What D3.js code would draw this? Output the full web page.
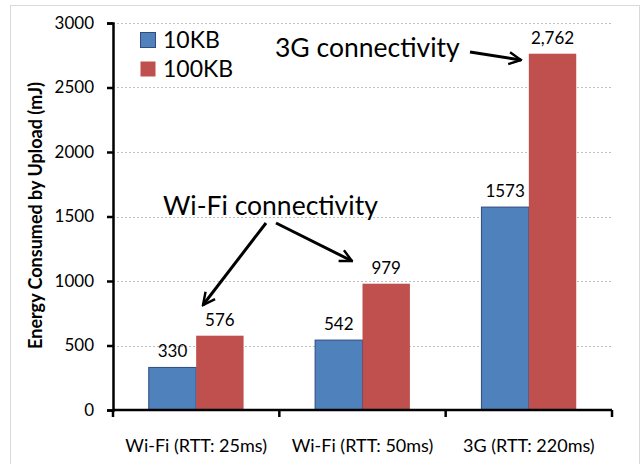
<!DOCTYPE html>
<html><head><meta charset="utf-8">
<script src="https://cdn.jsdelivr.net/npm/d3@7"></script>
<style>body{margin:0;background:#fff}svg{display:block}text{font-family:Lato,"Open Sans",sans-serif}</style>
</head><body>
<script>
const categories = ["Wi-Fi (RTT: 25ms)", "Wi-Fi (RTT: 50ms)", "3G (RTT: 220ms)"];
const seriesNames = ["10KB", "100KB"];
const values10KB = [330, 542, 1573];
const values100KB = [576, 979, 2762];
const labels10KB = ["330", "542", "1573"];
const labels100KB = ["576", "979", "2,762"];
const yTicks = [0, 500, 1000, 1500, 2000, 2500, 3000];
const colors = ["#4F81BD", "#C0504D"];

const W = 643, H = 464;
const m = {left: 113, right: 31, top: 23, bottom: 54};
const svg = d3.select("body").append("svg").attr("width", W).attr("height", H);

svg.append("rect").attr("x", 10.5).attr("y", 5.5).attr("width", 629).attr("height", 470)
  .attr("fill", "none").attr("stroke", "#D9D9D9").attr("stroke-width", 1);

const x = d3.scaleBand().domain(categories).range([m.left, W - m.right]).paddingInner(0.43).paddingOuter(0.215);
const x1 = d3.scaleBand().domain(seriesNames).range([0, x.bandwidth()]);
const y = d3.scaleLinear().domain([0, 3000]).range([H - m.bottom, m.top]);

// grid
svg.append("g").selectAll("line").data(yTicks.slice(1)).join("line")
  .attr("x1", m.left).attr("x2", W - m.right)
  .attr("y1", d => Math.round(y(d)) + 0.5).attr("y2", d => Math.round(y(d)) + 0.5)
  .attr("stroke", "#BFBFBF").attr("stroke-dasharray", "2,2").attr("stroke-width", 1);

const series = [values10KB, values100KB];
const labs = [labels10KB, labels100KB];
seriesNames.forEach((s, si) => {
  const g = svg.append("g");
  g.selectAll("rect").data(categories).join("rect")
    .attr("x", c => x(c) + x1(s))
    .attr("y", (c, i) => y(series[si][i]))
    .attr("width", x1.bandwidth())
    .attr("height", (c, i) => y(0) - y(series[si][i]))
    .attr("fill", colors[si])
    .attr("stroke", si === 0 ? "#2F4B7A" : "none").attr("stroke-width", 1);
  g.selectAll("text").data(categories).join("text")
    .attr("x", c => x(c) + x1(s) + x1.bandwidth() / 2)
    .attr("y", (c, i) => y(series[si][i]) - 10)
    .attr("text-anchor", "middle").attr("font-size", 17).attr("fill", "#000")
    .text((c, i) => labs[si][i]);
});

// y axis
const ya = svg.append("g").attr("transform", `translate(${m.left},0)`)
  .call(d3.axisLeft(y).tickValues(yTicks).tickSize(6).tickPadding(13).tickFormat(d3.format("d")));
ya.select(".domain").attr("stroke", "#000").attr("stroke-width", 2.5);
ya.selectAll(".tick line").attr("stroke", "#000").attr("stroke-width", 2.5);
ya.selectAll(".tick text").attr("font-size", 17).attr("fill", "#000").style("font-family", "Lato");

// x axis
const xa = svg.append("g").attr("transform", `translate(0,${y(0)})`)
  .call(d3.axisBottom(x).tickSize(0).tickPadding(29));
xa.select(".domain").attr("stroke", "#000").attr("stroke-width", 2.5)
  .attr("d", `M${m.left},0H${W - m.right}`);
xa.selectAll(".tick text").attr("font-size", 18).attr("fill", "#000").style("font-family", "Lato");
const bounds = [m.left, ...categories.slice(1).map(c => x(c) - x.step() * x.paddingInner() / 2), W - m.right];
xa.append("g").selectAll("line").data(bounds).join("line")
  .attr("x1", d => d).attr("x2", d => d).attr("y1", 0).attr("y2", 7)
  .attr("stroke", "#000").attr("stroke-width", 2.5);

// y title
svg.append("text").attr("transform", `translate(42,${(m.top + H - m.bottom) / 2 - 1}) rotate(-90)`)
  .attr("text-anchor", "middle").attr("font-size", 18).attr("font-weight", "bold")
  .text("Energy Consumed by Upload (mJ)");

// legend
seriesNames.forEach((s, i) => {
  svg.append("rect").attr("x", 140.5).attr("y", 32.5 + i * 29).attr("width", 15).attr("height", 15)
    .attr("fill", colors[i]).attr("stroke", i === 0 ? "#2F4B7A" : "none");
  svg.append("text").attr("x", 163).attr("y", 48 + i * 29).attr("font-size", 23).text(s);
});

// annotations
const defs = svg.append("defs");
defs.append("marker").attr("id", "ah").attr("viewBox", "0 0 10 10").attr("refX", 9).attr("refY", 5)
  .attr("markerWidth", 5).attr("markerHeight", 5).attr("markerUnits", "strokeWidth").attr("orient", "auto")
  .append("path").attr("d", "M1,1 L9,5 L1,9").attr("fill", "none").attr("stroke", "#000").attr("stroke-width", 1.6);

svg.append("text").attr("x", 275).attr("y", 57).attr("font-size", 26.5).text("3G connectivity");
svg.append("text").attr("x", 163).attr("y", 215).attr("font-size", 26.5).text("Wi-Fi connectivity");
const arrows = [[470, 52, 521, 60], [266, 223, 203, 305], [276, 223, 352, 261]];
svg.append("g").selectAll("line").data(arrows).join("line")
  .attr("x1", d => d[0]).attr("y1", d => d[1]).attr("x2", d => d[2]).attr("y2", d => d[3])
  .attr("stroke", "#000").attr("stroke-width", 3).attr("marker-end", "url(#ah)");
</script>
</body></html>
